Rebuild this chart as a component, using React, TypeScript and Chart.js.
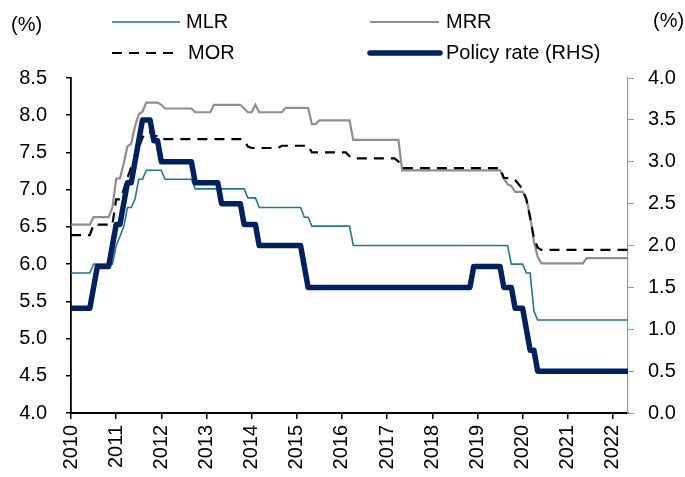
import React, { useEffect, useRef } from 'react';
import { Chart, registerables } from 'chart.js';

Chart.register(...registerables);

// ---- Data (monthly observations, decimal years built from "YYYY-MM") ----
const yearTicks = [2010, 2011, 2012, 2013, 2014, 2015, 2016, 2017, 2018, 2019, 2020, 2021, 2022];

const mlrMonths = ['2010-01','2010-06','2010-07','2010-12','2011-01','2011-02','2011-03','2011-04','2011-05','2011-06','2011-07','2011-08','2011-09','2012-01','2012-02','2012-09','2012-10','2013-11','2013-12','2014-02','2014-03','2015-02','2015-03','2015-04','2015-05','2016-03','2016-04','2019-09','2019-10','2020-01','2020-02','2020-03','2020-04','2020-05','2022-05'];
const mlrValues = [5.88,5.88,6.0,6.0,6.25,6.37,6.5,6.76,6.76,6.87,7.14,7.14,7.26,7.26,7.14,7.14,7.01,7.01,6.89,6.89,6.76,6.76,6.63,6.63,6.51,6.51,6.25,6.25,6.0,6.0,5.88,5.88,5.37,5.25,5.25];

const mrrMonths = ['2010-01','2010-06','2010-07','2010-11','2010-12','2011-01','2011-02','2011-03','2011-04','2011-05','2011-06','2011-07','2011-08','2011-09','2011-12','2012-01','2012-02','2012-09','2012-10','2013-02','2013-03','2013-10','2013-11','2013-12','2014-01','2014-02','2014-03','2014-09','2014-10','2015-04','2015-05','2015-06','2015-07','2016-03','2016-04','2017-04','2017-05','2019-07','2019-08','2019-09','2019-10','2019-11','2020-01','2020-02','2020-03','2020-04','2020-05','2020-06','2021-05','2021-06','2022-05'];
const mrrValues = [6.53,6.53,6.63,6.63,6.76,7.15,7.15,7.35,7.58,7.62,7.85,8.01,8.05,8.17,8.17,8.14,8.09,8.09,8.04,8.04,8.14,8.14,8.09,8.04,8.04,8.14,8.04,8.04,8.10,8.10,7.88,7.88,7.93,7.93,7.67,7.67,7.26,7.26,7.15,7.07,7.05,6.97,6.97,6.87,6.65,6.3,6.1,6.01,6.01,6.08,6.08];

const morMonths = ['2010-01','2010-06','2010-07','2010-12','2011-01','2011-02','2011-03','2011-04','2011-05','2011-06','2011-07','2011-08','2011-09','2011-10','2011-11','2011-12','2012-01','2013-10','2013-11','2013-12','2014-01','2014-08','2014-09','2015-04','2015-05','2016-02','2016-03','2016-04','2017-03','2017-04','2017-05','2019-07','2019-08','2019-10','2019-11','2019-12','2020-01','2020-02','2020-03','2020-04','2020-05','2020-06','2022-05'];
const morValues = [6.39,6.39,6.53,6.53,6.87,6.87,7.0,7.16,7.3,7.42,7.56,7.7,7.77,7.77,7.72,7.72,7.68,7.68,7.66,7.58,7.56,7.56,7.59,7.59,7.50,7.50,7.45,7.42,7.42,7.38,7.29,7.29,7.16,7.15,7.13,7.07,7.0,6.87,6.62,6.35,6.22,6.19,6.19];

const policyMonths = ['2010-01','2010-06','2010-07','2010-08','2010-11','2010-12','2011-01','2011-02','2011-03','2011-04','2011-05','2011-06','2011-07','2011-08','2011-10','2011-11','2011-12','2012-01','2012-09','2012-10','2013-04','2013-05','2013-10','2013-11','2014-02','2014-03','2015-02','2015-03','2015-04','2018-11','2018-12','2019-07','2019-08','2019-10','2019-11','2020-01','2020-02','2020-03','2020-04','2020-05','2022-05'];
const policyValues = [1.25,1.25,1.5,1.75,1.75,2.0,2.25,2.25,2.5,2.75,2.75,3.0,3.25,3.5,3.5,3.25,3.25,3.0,3.0,2.75,2.75,2.5,2.5,2.25,2.25,2.0,2.0,1.75,1.5,1.5,1.75,1.75,1.5,1.5,1.25,1.25,1.0,0.75,0.75,0.5,0.5];

const leftTickValues = [4.0, 4.5, 5.0, 5.5, 6.0, 6.5, 7.0, 7.5, 8.0, 8.5];
const rightTickValues = [0.0, 0.5, 1.0, 1.5, 2.0, 2.5, 3.0, 3.5, 4.0];

const COLORS = {
  mlr: '#1d7a8c',
  mrr: '#8e8e8e',
  mor: '#000000',
  policy: '#002060',
};

const FONT = '"Liberation Sans", Arial, Helvetica, sans-serif';

function toYear(m: string): number {
  const [y, mo] = m.split('-').map(Number);
  return y + (mo - 1) / 12;
}

function pts(months: string[], values: number[]) {
  return months.map((m, i) => ({ x: toYear(m), y: values[i] }));
}

const legendPlugin = {
  id: 'customLegend',
  afterDraw(chart: any) {
    const ctx: CanvasRenderingContext2D = chart.ctx;
    ctx.save();
    ctx.font = `20px ${FONT}`;
    ctx.fillStyle = '#000';
    ctx.textBaseline = 'middle';
    ctx.textAlign = 'left';
    ctx.fillText('(%)', 11, 25);
    ctx.fillText('(%)', 653, 21);

    const ds = chart.data.datasets;
    const items = [
      { i: 0, x0: 112, x1: 180, y: 22, tx: 186 },
      { i: 1, x0: 370, x1: 439, y: 22, tx: 446 },
      { i: 2, x0: 112, x1: 173, y: 53, tx: 188 },
      { i: 3, x0: 370, x1: 440, y: 53, tx: 446 },
    ];
    items.forEach((it) => {
      const d = ds[it.i];
      ctx.save();
      ctx.strokeStyle = d.borderColor;
      ctx.lineWidth = d.borderWidth;
      ctx.lineCap = it.i === 3 ? 'round' : 'butt';
      ctx.setLineDash(d.borderDash || []);
      ctx.beginPath();
      ctx.moveTo(it.x0, it.y);
      ctx.lineTo(it.x1, it.y);
      ctx.stroke();
      ctx.restore();
      ctx.fillText(d.label, it.tx, it.y);
    });
    ctx.restore();
  },
};

export default function App() {
  const canvasRef = useRef<HTMLCanvasElement | null>(null);

  useEffect(() => {
    if (!canvasRef.current) return;
    const chart = new Chart(canvasRef.current, {
      type: 'line',
      data: {
        datasets: [
          {
            label: 'MLR',
            data: pts(mlrMonths, mlrValues),
            borderColor: COLORS.mlr,
            borderWidth: 1.6,
            yAxisID: 'y',
            order: 3,
          },
          {
            label: 'MRR',
            data: pts(mrrMonths, mrrValues),
            borderColor: COLORS.mrr,
            borderWidth: 2.2,
            yAxisID: 'y',
            order: 2,
          },
          {
            label: 'MOR',
            data: pts(morMonths, morValues),
            borderColor: COLORS.mor,
            borderWidth: 2.2,
            borderDash: [10, 7],
            yAxisID: 'y',
            order: 1,
          },
          {
            label: 'Policy rate (RHS)',
            data: pts(policyMonths, policyValues),
            borderColor: COLORS.policy,
            borderWidth: 5.5,
            borderJoinStyle: 'round',
            yAxisID: 'y1',
            order: 0,
          },
        ] as any,
      },
      options: {
        responsive: false,
        animation: false,
        devicePixelRatio: 1,
        events: [],
        layout: { padding: { top: 78, left: 0, right: 0, bottom: 0 } },
        elements: {
          point: { radius: 0 },
          line: { tension: 0, fill: false },
        },
        plugins: {
          legend: { display: false },
          tooltip: { enabled: false },
        },
        scales: {
          x: {
            type: 'linear',
            min: 2010,
            max: 2022 + 4 / 12,
            afterBuildTicks: (scale: any) => {
              scale.ticks = yearTicks.map((v) => ({ value: v }));
            },
            afterFit: (scale: any) => {
              scale.height = 64;
            },
            ticks: {
              autoSkip: false,
              minRotation: 90,
              maxRotation: 90,
              padding: 6,
              color: '#000',
              font: { family: FONT, size: 20 },
              callback: (v: any) => String(v),
            },
            grid: {
              drawOnChartArea: false,
              drawTicks: true,
              tickLength: 6,
              color: '#000',
              lineWidth: 1.5,
            },
            border: { display: true, color: '#000', width: 2 },
          },
          y: {
            type: 'linear',
            position: 'left',
            min: 4,
            max: 8.5,
            afterBuildTicks: (scale: any) => {
              scale.ticks = leftTickValues.map((v) => ({ value: v }));
            },
            afterFit: (scale: any) => {
              scale.width = 71;
            },
            ticks: {
              padding: 19,
              color: '#000',
              font: { family: FONT, size: 20 },
              callback: (v: any) => Number(v).toFixed(1),
            },
            grid: {
              drawOnChartArea: false,
              drawTicks: true,
              tickLength: 5,
              color: '#000',
              lineWidth: 1.5,
            },
            border: { display: true, color: '#000', width: 1.8 },
          },
          y1: {
            type: 'linear',
            position: 'right',
            min: 0,
            max: 4,
            afterBuildTicks: (scale: any) => {
              scale.ticks = rightTickValues.map((v) => ({ value: v }));
            },
            afterFit: (scale: any) => {
              scale.width = 57;
            },
            ticks: {
              padding: 14,
              color: '#000',
              font: { family: FONT, size: 20 },
              callback: (v: any) => Number(v).toFixed(1),
            },
            grid: {
              drawOnChartArea: false,
              drawTicks: true,
              tickLength: 6,
              color: '#9a9a9a',
              lineWidth: 1,
            },
            border: { display: true, color: '#9a9a9a', width: 1.2 },
          },
        },
      } as any,
      plugins: [legendPlugin],
    });
    return () => chart.destroy();
  }, []);

  return (
    <div style={{ position: 'absolute', left: 0, top: 0, width: 685, height: 477, background: '#fff' }}>
      <canvas ref={canvasRef} width={685} height={477} style={{ width: 685, height: 477, display: 'block' }} />
    </div>
  );
}
